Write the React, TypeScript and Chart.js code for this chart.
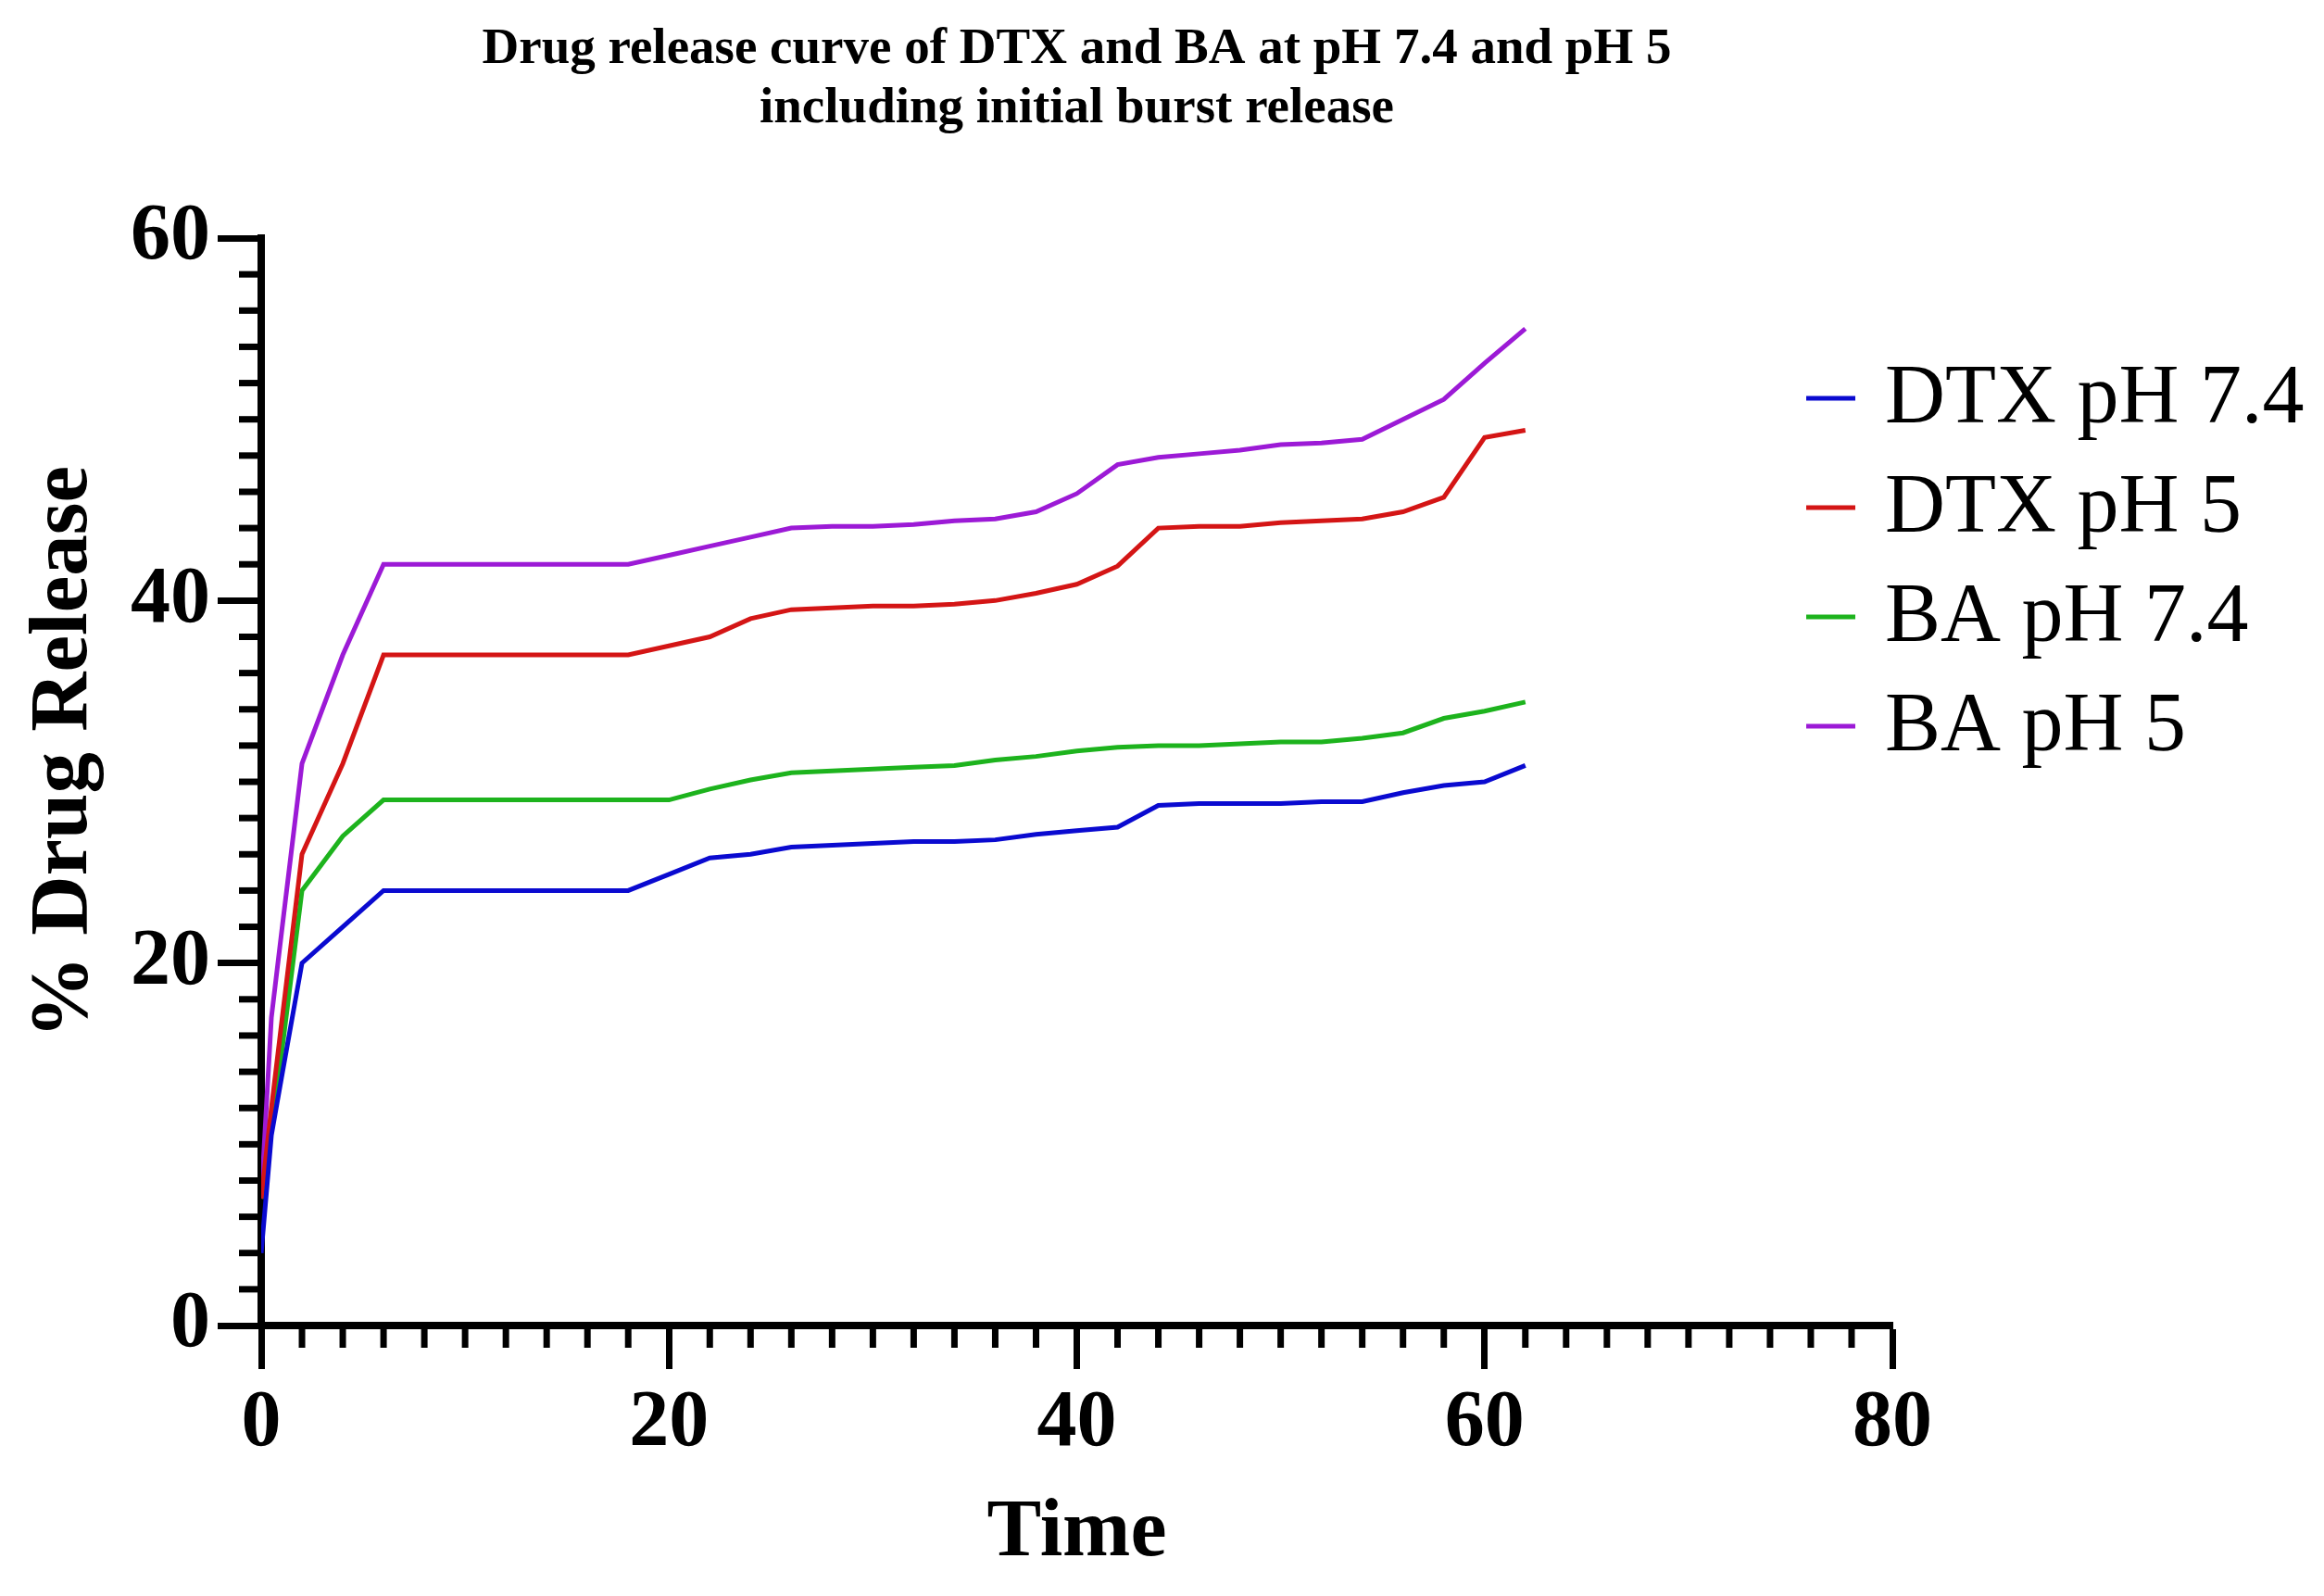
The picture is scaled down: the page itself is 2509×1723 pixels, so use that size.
import { Chart, registerables } from 'chart.js';
import React, { useEffect, useRef } from 'react';

Chart.register(...registerables);

const SERIF = "'Liberation Serif', 'Times New Roman', serif";

// sampling times
const times = [0, 0.5, 1, 2, 4, 6, 18, 20, 22, 24, 26, 28, 30, 32, 34, 36, 38, 40, 42, 44, 46, 48, 50, 52, 54, 56, 58, 60, 62];

// % drug release
const dtxPh74 = [4, 10.5, 13.7, 20, 22, 24, 24, 24.9, 25.8, 26, 26.4, 26.5, 26.6, 26.7, 26.7, 26.8, 27.1, 27.3, 27.5, 28.7, 28.8, 28.8, 28.8, 28.9, 28.9, 29.4, 29.8, 30, 30.9];
const dtxPh5 = [7, 12, 16.7, 26, 31, 37, 37, 37.5, 38, 39, 39.5, 39.6, 39.7, 39.7, 39.8, 40, 40.4, 40.9, 41.9, 44, 44.1, 44.1, 44.3, 44.4, 44.5, 44.9, 45.7, 49, 49.4];
const baPh74 = [7, 11, 15, 24, 27, 29, 29, 29, 29.6, 30.1, 30.5, 30.6, 30.7, 30.8, 30.9, 31.2, 31.4, 31.7, 31.9, 32, 32, 32.1, 32.2, 32.2, 32.4, 32.7, 33.5, 33.9, 34.4];
const baPh5 = [7, 17, 21.7, 31, 37, 42, 42, 42.5, 43, 43.5, 44, 44.1, 44.1, 44.2, 44.4, 44.5, 44.9, 45.9, 47.5, 47.9, 48.1, 48.3, 48.6, 48.7, 48.9, 50, 51.1, 53.1, 55];

const seriesLabels = ['DTX pH 7.4', 'DTX pH 5', 'BA pH 7.4', 'BA pH 5'];
const seriesValues = [dtxPh74, dtxPh5, baPh74, baPh5];
const seriesColors = ['#0a0ad0', '#d41515', '#1db31d', '#9c1ad6'];

const titleLines = ['Drug release curve of DTX and BA at pH 7.4 and pH 5', 'including initial burst release'];
const xTitle = 'Time';
const yTitle = '% Drug Release';

const xMin = 0, xMax = 80, yMin = 0, yMax = 60;
const majorStep = 20;
const minorStep = 2;

// minor ticks every 2 units on both axes (Chart.js has no minor ticks of its own)
const minorTicks = {
    id: 'minorTicks',
    afterDraw(chart: any) {
        const { ctx, scales } = chart;
        const xs = scales.x;
        const ys = scales.y;
        ctx.save();
        ctx.strokeStyle = '#000';
        ctx.lineWidth = 7;
        for (let v = xMin; v <= xMax; v += minorStep) {
            if (v % majorStep === 0) continue;
            const px = xs.getPixelForValue(v);
            ctx.beginPath();
            ctx.moveTo(px, xs.top);
            ctx.lineTo(px, xs.top + 24);
            ctx.stroke();
        }
        for (let v = yMin; v <= yMax; v += minorStep) {
            if (v % majorStep === 0) continue;
            const py = ys.getPixelForValue(v);
            ctx.beginPath();
            ctx.moveTo(ys.right, py);
            ctx.lineTo(ys.right - 24, py);
            ctx.stroke();
        }
        ctx.restore();
    },
};

// y title sits a little above the middle of the axis in the original
const yAxisTitle = {
    id: 'yAxisTitle',
    afterDraw(chart: any) {
        const { ctx, chartArea } = chart;
        ctx.save();
        ctx.translate(70, (chartArea.top + chartArea.bottom) / 2 - 32);
        ctx.rotate(-Math.PI / 2);
        ctx.font = `bold 89px ${SERIF}`;
        ctx.fillStyle = '#000';
        ctx.textAlign = 'center';
        ctx.textBaseline = 'middle';
        ctx.fillText(yTitle, 0, 0);
        ctx.restore();
    },
};

// legend sitting to the right of the curves
const sideLegend = {
    id: 'sideLegend',
    afterDraw(chart: any) {
        const { ctx } = chart;
        ctx.save();
        ctx.font = `90px ${SERIF}`;
        ctx.textBaseline = 'middle';
        ctx.textAlign = 'left';
        chart.data.datasets.forEach((ds: any, i: number) => {
            const y = 430 + i * 118;
            ctx.strokeStyle = ds.borderColor;
            ctx.lineWidth = 5;
            ctx.beginPath();
            ctx.moveTo(1950, y);
            ctx.lineTo(2003, y);
            ctx.stroke();
            ctx.fillStyle = '#000';
            ctx.fillText(ds.label, 2035, y + 2);
        });
        ctx.restore();
    },
};

const ReleaseChart = () => {
    const canvas = useRef<HTMLCanvasElement | null>(null);
    useEffect(() => {
        const item = canvas.current?.getContext('2d');
        if (!item) return;
        const chart = new Chart(item, {
            type: 'line',
            data: {
                datasets: seriesLabels.map((label, i) => ({
                    label,
                    data: times.map((t, j) => ({ x: t, y: seriesValues[i][j] })),
                    borderColor: seriesColors[i],
                    backgroundColor: seriesColors[i],
                    borderWidth: 5,
                    pointRadius: 0,
                    tension: 0,
                    fill: false,
                })),
            },
            options: {
                animation: false,
                responsive: true,
                maintainAspectRatio: false,
                layout: { padding: { left: 0, right: 466, top: 0, bottom: 0 } },
                plugins: {
                    legend: { display: false },
                    tooltip: { enabled: false },
                    title: {
                        display: true,
                        fullSize: false,
                        text: titleLines,
                        color: '#000',
                        font: { family: SERIF, size: 55, weight: 'bold', lineHeight: 1.164 },
                        padding: { top: 22, bottom: 107 },
                    },
                },
                scales: {
                    x: {
                        type: 'linear',
                        min: xMin,
                        max: xMax,
                        afterFit: (s: any) => {
                            s.height = 292;
                        },
                        border: { display: true, color: '#000', width: 8 },
                        grid: {
                            display: true,
                            drawOnChartArea: false,
                            drawTicks: true,
                            tickLength: 47,
                            tickWidth: 7,
                            tickColor: '#000',
                        },
                        ticks: {
                            stepSize: majorStep,
                            color: '#000',
                            padding: 8,
                            maxRotation: 0,
                            font: { family: SERIF, size: 86, weight: 'bold' },
                        },
                        title: {
                            display: true,
                            text: xTitle,
                            color: '#000',
                            font: { family: SERIF, size: 88, weight: 'bold', lineHeight: 1.2 },
                            padding: { top: 0, bottom: 14 },
                        },
                    },
                    y: {
                        type: 'linear',
                        min: yMin,
                        max: yMax,
                        afterFit: (s: any) => {
                            s.width = 282;
                        },
                        border: { display: true, color: '#000', width: 8 },
                        grid: {
                            display: true,
                            drawOnChartArea: false,
                            drawTicks: true,
                            tickLength: 47,
                            tickWidth: 7,
                            tickColor: '#000',
                        },
                        ticks: {
                            stepSize: majorStep,
                            color: '#000',
                            padding: 8,
                            font: { family: SERIF, size: 86, weight: 'bold' },
                        },
                        title: { display: false },
                    },
                },
            },
            plugins: [minorTicks, yAxisTitle, sideLegend],
        });
        return () => chart.destroy();
    }, []);
    return <canvas ref={canvas} />;
};

export default function App() {
    useEffect(() => {
        document.body.style.margin = '0';
    }, []);
    return (
        <div style={{ position: 'fixed', left: 0, top: 0, width: 2509, height: 1723, background: '#fff' }}>
            <ReleaseChart />
        </div>
    );
}
